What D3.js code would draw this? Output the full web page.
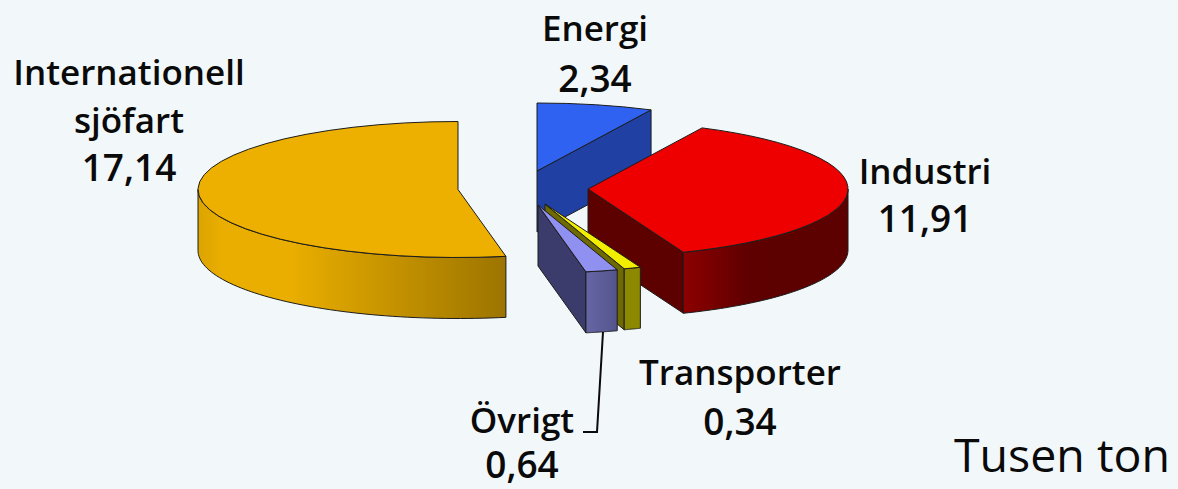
<!DOCTYPE html>
<html lang="sv">
<head>
<meta charset="utf-8">
<title>Utsläpp per sektor</title>
<script src="https://cdn.jsdelivr.net/npm/d3@7"></script>
<style>
  html, body { margin: 0; padding: 0; background: #f2f8f9; overflow: hidden; }
  svg { display: block; }
  text { font-family: "Open Sans", "Noto Sans", sans-serif; font-weight: 600; fill: #0a0a0a; text-anchor: middle; }
</style>
</head>
<body>
<svg id="chart" width="1178" height="489"></svg>
<script>
// Sectors, clockwise from twelve o'clock
const sectors = ["Energi", "Industri", "Transporter", "Övrigt", "Internationell sjöfart"];
const values = [2.34, 11.91, 0.34, 0.64, 17.14];

// Slice appearance, in sector order
const topColors = ["#2f62f0", "#ee0000", "#f2ee00", "#9090f0", "#eeb000"];
const cutColors = ["#2040a4", "#5c0000", "#6e6a00", "#3c3c6c", "#a07800"];
const wallStops = [
  [[0, "#2040a4"], [1, "#2040a4"]],
  [[0, "#8c0000"], [0.4, "#5e0000"], [1, "#5c0000"]],
  [[0, "#8c8800"], [1, "#8c8800"]],
  [[0, "#6666a6"], [1, "#54548c"]],
  [[0, "#dca400"], [0.08, "#eaae00"], [0.3, "#eaae00"], [1, "#9c7400"]]
];

// Pull-out centre of each slice
const centers = [[537, 171], [588, 189], [545, 204], [538, 205], [458, 189.5]];

// Label lines, anchor positions, line steps and the font sizes used for labels
const labelLines = [["Energi"], ["Industri"], ["Transporter"], ["Övrigt"], ["Internationell", "sjöfart"]];
const labelAnchors = [[595, 41], [925, 184], [740, 385], [522, 433], [129, 85]];
const labelSteps = [51, 48, 50, 45, 48];
const nameSize = 35;
const valueSize = 37;

const rx = 260, ry = 68, depth = 61;
const tilt = ry / rx;

const svg = d3.select("#chart");
const defs = svg.append("defs");
const formatValue = d3.formatLocale({ decimal: ",", thousands: " ", grouping: [3], currency: ["", " kr"] }).format(".2f");

const pie = d3.pie().sort(null).startAngle(0).endAngle(2 * Math.PI);
const arcs = pie(values);
const topArc = d3.arc().innerRadius(0).outerRadius(rx);
const line = d3.line();

const at = (i, a, drop = 0) => [
  centers[i][0] + rx * Math.sin(a),
  centers[i][1] - ry * Math.cos(a) + drop
];

arcs.forEach((d, i) => {
  const g = svg.append("g").attr("class", "slice");
  const edge = { stroke: "#1c1c1c", "stroke-width": 1, "stroke-linejoin": "round" };
  const applyEdge = sel => Object.entries(edge).forEach(([k, v]) => sel.attr(k, v));

  // Cut face along the slice's closing radius
  if (d.endAngle < 2 * Math.PI - 1e-6) {
    const outer = at(i, d.endAngle);
    const apex = centers[i];
    g.append("path")
      .attr("d", line([apex, outer, [outer[0], outer[1] + depth], [apex[0], apex[1] + depth]]) + "Z")
      .attr("fill", cutColors[i])
      .call(applyEdge);
  }

  // Rim: only the stretch facing the viewer
  const from = Math.max(d.startAngle, Math.PI / 2);
  const to = Math.min(d.endAngle, 3 * Math.PI / 2);
  if (to > from) {
    const steps = d3.range(0, 61).map(k => from + (to - from) * k / 60);
    const pts = steps.map(a => at(i, a)).concat(steps.slice().reverse().map(a => at(i, a, depth)));
    const xs = d3.extent(pts, p => p[0]);
    const gradId = "rim" + i;
    const grad = defs.append("linearGradient")
      .attr("id", gradId).attr("gradientUnits", "userSpaceOnUse")
      .attr("x1", xs[0]).attr("x2", xs[1]).attr("y1", 0).attr("y2", 0);
    wallStops[i].forEach(([offset, color]) => {
      grad.append("stop").attr("offset", offset).attr("stop-color", color);
    });
    g.append("path")
      .attr("d", line(pts) + "Z")
      .attr("fill", `url(#${gradId})`)
      .call(applyEdge);
  }

  // Top face: a flat pie slice squashed into the ellipse
  g.append("path")
    .attr("d", topArc(d))
    .attr("transform", `translate(${centers[i]}) scale(1,${tilt})`)
    .attr("fill", topColors[i])
    .attr("vector-effect", "non-scaling-stroke")
    .call(applyEdge);
});

// Leader from the Övrigt slice to its label
svg.append("path")
  .attr("d", line([[603, 332], [597, 432], [583, 432]]))
  .attr("fill", "none").attr("stroke", "#0a0a0a").attr("stroke-width", 2);

// Sector names with their values underneath
sectors.forEach((name, i) => {
  const [x, y] = labelAnchors[i];
  const rows = labelLines[i].map(t => ({ t, size: nameSize }))
    .concat({ t: formatValue(values[i]), size: valueSize });
  svg.append("g").selectAll("text").data(rows).join("text")
    .attr("x", x)
    .attr("y", (r, k) => y + k * labelSteps[i])
    .attr("font-size", r => r.size)
    .text(r => r.t);
});

// Unit note
svg.append("text")
  .attr("x", 1062).attr("y", 472)
  .attr("font-size", 46.5)
  .style("font-weight", 400)
  .text("Tusen ton");
</script>
</body>
</html>
